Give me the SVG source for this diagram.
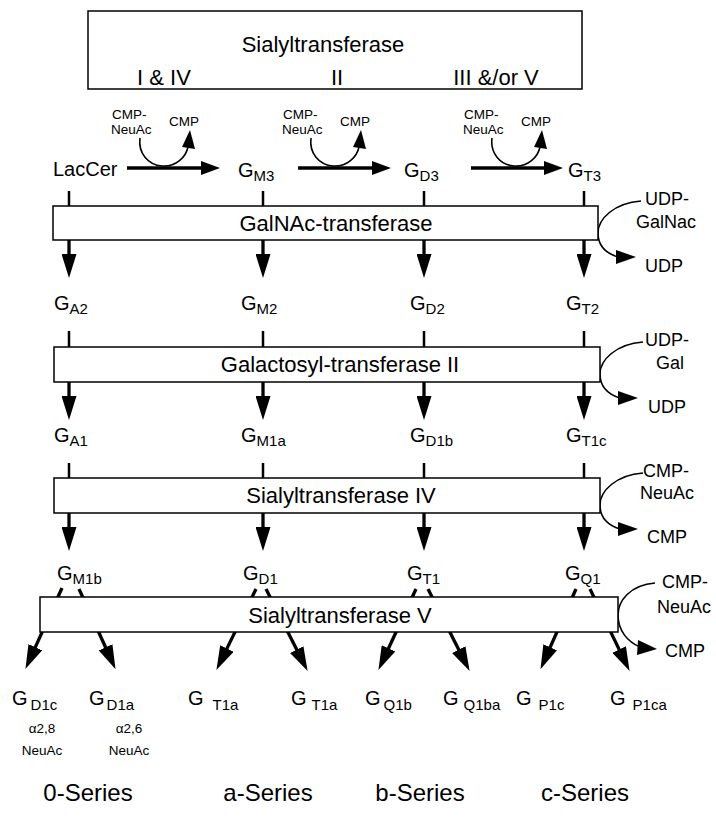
<svg xmlns="http://www.w3.org/2000/svg" width="716" height="818" viewBox="0 0 716 818">
<style>
.t{font-family:"Liberation Sans",Arial,Helvetica,sans-serif;fill:#000}
.bx{font-size:22px}
.sm{font-size:13.5px}
.rl{font-size:18px}
.g{font-size:20px}
.s{font-size:15px}
.ser{font-size:24px}
.box{fill:#fff;stroke:#000;stroke-width:1.5}
.ln{stroke:#000;stroke-width:3.3;fill:none}
.st{stroke:#000;stroke-width:2.5;fill:none}
.cv{stroke:#000;stroke-width:1.6;fill:none}
</style>
<defs>
<marker id="hv" viewBox="0 0 24 15" refX="1" refY="7.5" markerWidth="24" markerHeight="15" markerUnits="userSpaceOnUse" orient="auto"><path d="M0,0 L24,7.5 L0,15 z"/></marker>
<marker id="hh" viewBox="0 0 19 14" refX="1" refY="7" markerWidth="19" markerHeight="14" markerUnits="userSpaceOnUse" orient="auto"><path d="M0,0 L19,7 L0,14 z"/></marker>
<g id="cmpc">
<path class="cv" d="M140,138 C138,153 148,165 162,166 C176,167 186,157 188,147"/>
<polygon points="182,147 190,130 195,149"/>
</g>
<g id="rc">
<path class="cv" d="M43,-6 C16,-4 0,12 0,26 C0,38 7,46 20,50"/>
<polygon points="18,43 38,50 18,57"/>
</g>
</defs>

<g id="connectors">
<line class="ln" x1="127" y1="168" x2="202" y2="168" marker-end="url(#hh)"/>
<line class="ln" x1="298" y1="168" x2="373" y2="168" marker-end="url(#hh)"/>
<line class="ln" x1="471" y1="168" x2="545" y2="168" marker-end="url(#hh)"/>
<use href="#cmpc"/>
<use href="#cmpc" transform="translate(171,0)"/>
<use href="#cmpc" transform="translate(352,0)"/>
<line class="st" x1="69" y1="191" x2="69" y2="206"/>
<line class="st" x1="263" y1="191" x2="263" y2="206"/>
<line class="st" x1="424" y1="191" x2="424" y2="206"/>
<line class="st" x1="584" y1="191" x2="584" y2="206"/>
<line class="st" x1="69" y1="331" x2="69" y2="347"/>
<line class="st" x1="263" y1="331" x2="263" y2="347"/>
<line class="st" x1="424" y1="331" x2="424" y2="347"/>
<line class="st" x1="584" y1="331" x2="584" y2="347"/>
<line class="st" x1="69" y1="463" x2="69" y2="478"/>
<line class="st" x1="263" y1="463" x2="263" y2="478"/>
<line class="st" x1="424" y1="463" x2="424" y2="478"/>
<line class="st" x1="584" y1="463" x2="584" y2="478"/>
<line class="ln" x1="69" y1="240" x2="69" y2="255" marker-end="url(#hv)"/>
<line class="ln" x1="263" y1="240" x2="263" y2="255" marker-end="url(#hv)"/>
<line class="ln" x1="424" y1="240" x2="424" y2="255" marker-end="url(#hv)"/>
<line class="ln" x1="584" y1="240" x2="584" y2="255" marker-end="url(#hv)"/>
<line class="ln" x1="69" y1="382" x2="69" y2="397" marker-end="url(#hv)"/>
<line class="ln" x1="263" y1="382" x2="263" y2="397" marker-end="url(#hv)"/>
<line class="ln" x1="424" y1="382" x2="424" y2="397" marker-end="url(#hv)"/>
<line class="ln" x1="584" y1="382" x2="584" y2="397" marker-end="url(#hv)"/>
<line class="ln" x1="69" y1="513" x2="69" y2="528" marker-end="url(#hv)"/>
<line class="ln" x1="263" y1="513" x2="263" y2="528" marker-end="url(#hv)"/>
<line class="ln" x1="424" y1="513" x2="424" y2="528" marker-end="url(#hv)"/>
<line class="ln" x1="584" y1="513" x2="584" y2="528" marker-end="url(#hv)"/>
<line class="ln" x1="62" y1="588" x2="34.9" y2="648.1" marker-end="url(#hv)"/>
<line class="ln" x1="79" y1="589" x2="106" y2="648.2" marker-end="url(#hv)"/>
<line class="ln" x1="256" y1="589" x2="226.5" y2="649.4" marker-end="url(#hv)"/>
<line class="ln" x1="266" y1="589" x2="297.2" y2="650.6" marker-end="url(#hv)"/>
<line class="ln" x1="416" y1="589" x2="388.1" y2="649.2" marker-end="url(#hv)"/>
<line class="ln" x1="428" y1="589" x2="459.2" y2="650.6" marker-end="url(#hv)"/>
<line class="ln" x1="576" y1="589" x2="549.8" y2="648.1" marker-end="url(#hv)"/>
<line class="ln" x1="590" y1="589" x2="619.6" y2="650.4" marker-end="url(#hv)"/>
<use href="#rc" transform="translate(598,207)"/>
<use href="#rc" transform="translate(600,348)"/>
<use href="#rc" transform="translate(600,479)"/>
<g transform="translate(618,597)">
<path class="cv" d="M37,-14 C12,-12 0,4 0,18 C0,34 10,45 22,50"/>
<polygon points="20,43 39,52 19,58"/>
</g>
</g>

<g id="enzyme-sialyltransferase">
<rect class="box" x="88" y="11" width="494" height="78"/>
<text class="t bx" x="323" y="52" text-anchor="middle">Sialyltransferase</text>
<text class="t bx" x="164" y="85" text-anchor="middle">I &amp; IV</text>
<text class="t bx" x="337" y="85" text-anchor="middle">II</text>
<text class="t bx" x="496" y="85" text-anchor="middle">III &amp;/or V</text>
</g>

<g id="cofactors-top" class="t sm">
<text x="112" y="118.5">CMP-</text><text x="111" y="133.5">NeuAc</text><text x="169" y="126">CMP</text>
<text x="283" y="118.5">CMP-</text><text x="282" y="133.5">NeuAc</text><text x="340" y="126">CMP</text>
<text x="464" y="118.5">CMP-</text><text x="463" y="133.5">NeuAc</text><text x="521" y="126">CMP</text>
</g>

<g id="LacCer"><text class="t g" x="53" y="176">LacCer</text></g>
<g id="GM3"><text class="t g" x="238" y="177">G<tspan class="s" dy="4">M3</tspan></text></g>
<g id="GD3"><text class="t g" x="404" y="177">G<tspan class="s" dy="4">D3</tspan></text></g>
<g id="GT3"><text class="t g" x="568" y="177">G<tspan class="s" dy="4">T3</tspan></text></g>

<g id="enzyme-galnac">
<rect class="box" x="53" y="206" width="545" height="34"/>
<text class="t bx" x="336" y="231" text-anchor="middle">GalNAc-transferase</text>
<text class="t rl" x="645" y="205">UDP-</text>
<text class="t rl" x="636" y="228">GalNac</text>
<text class="t rl" x="645" y="272">UDP</text>
</g>

<g id="GA2"><text class="t g" x="54" y="310">G<tspan class="s" dy="4">A2</tspan></text></g>
<g id="GM2"><text class="t g" x="241" y="310">G<tspan class="s" dy="4">M2</tspan></text></g>
<g id="GD2"><text class="t g" x="410" y="310">G<tspan class="s" dy="4">D2</tspan></text></g>
<g id="GT2"><text class="t g" x="566" y="310">G<tspan class="s" dy="4">T2</tspan></text></g>

<g id="enzyme-galactosyl">
<rect class="box" x="54" y="347" width="546" height="35"/>
<text class="t bx" x="340" y="372" text-anchor="middle">Galactosyl-transferase II</text>
<text class="t rl" x="645" y="346">UDP-</text>
<text class="t rl" x="656" y="369">Gal</text>
<text class="t rl" x="648" y="413">UDP</text>
</g>

<g id="GA1"><text class="t g" x="54" y="442">G<tspan class="s" dy="4">A1</tspan></text></g>
<g id="GM1a"><text class="t g" x="241" y="442">G<tspan class="s" dy="4">M1a</tspan></text></g>
<g id="GD1b"><text class="t g" x="410" y="442">G<tspan class="s" dy="4">D1b</tspan></text></g>
<g id="GT1c"><text class="t g" x="566" y="442">G<tspan class="s" dy="4">T1c</tspan></text></g>

<g id="enzyme-sialyl-iv">
<rect class="box" x="54" y="478" width="546" height="35"/>
<text class="t bx" x="341" y="503" text-anchor="middle">Sialyltransferase IV</text>
<text class="t rl" x="643" y="477">CMP-</text>
<text class="t rl" x="640" y="499">NeuAc</text>
<text class="t rl" x="647" y="543">CMP</text>
</g>

<g id="GM1b"><text class="t g" x="57" y="580">G<tspan class="s" dy="4">M1b</tspan></text></g>
<g id="GD1"><text class="t g" x="243" y="580">G<tspan class="s" dy="4">D1</tspan></text></g>
<g id="GT1"><text class="t g" x="407" y="580">G<tspan class="s" dy="4">T1</tspan></text></g>
<g id="GQ1"><text class="t g" x="565" y="580">G<tspan class="s" dy="4">Q1</tspan></text></g>

<g id="enzyme-sialyl-v">
<rect class="box" x="40" y="597" width="578" height="35"/>
<text class="t bx" x="340" y="623" text-anchor="middle">Sialyltransferase V</text>
<text class="t rl" x="662" y="588">CMP-</text>
<text class="t rl" x="657" y="613">NeuAc</text>
<text class="t rl" x="665" y="657">CMP</text>
</g>

<g id="GD1c"><text class="t g" x="12" y="705">G<tspan class="s" dx="3" dy="5">D1c</tspan></text></g>
<g id="GD1a"><text class="t g" x="89" y="705">G<tspan class="s" dx="2" dy="5">D1a</tspan></text></g>
<g id="GT1a-1"><text class="t g" x="188" y="705">G<tspan class="s" dx="9" dy="5">T1a</tspan></text></g>
<g id="GT1a-2"><text class="t g" x="291" y="705">G<tspan class="s" dx="5" dy="5">T1a</tspan></text></g>
<g id="GQ1b"><text class="t g" x="365" y="705">G<tspan class="s" dx="3" dy="5">Q1b</tspan></text></g>
<g id="GQ1ba"><text class="t g" x="443" y="705">G<tspan class="s" dx="5" dy="5">Q1ba</tspan></text></g>
<g id="GP1c"><text class="t g" x="516" y="705">G<tspan class="s" dx="7" dy="5">P1c</tspan></text></g>
<g id="GP1ca"><text class="t g" x="610" y="705">G<tspan class="s" dx="7" dy="5">P1ca</tspan></text></g>

<g id="linkage-notes" class="t sm" text-anchor="middle">
<text x="42" y="733">α2,8</text><text x="42" y="755">NeuAc</text>
<text x="129" y="733">α2,6</text><text x="129" y="755">NeuAc</text>
</g>

<g id="series" class="t ser" text-anchor="middle">
<text x="88" y="801">0-Series</text>
<text x="268" y="801">a-Series</text>
<text x="420" y="801">b-Series</text>
<text x="585" y="801">c-Series</text>
</g>
</svg>
